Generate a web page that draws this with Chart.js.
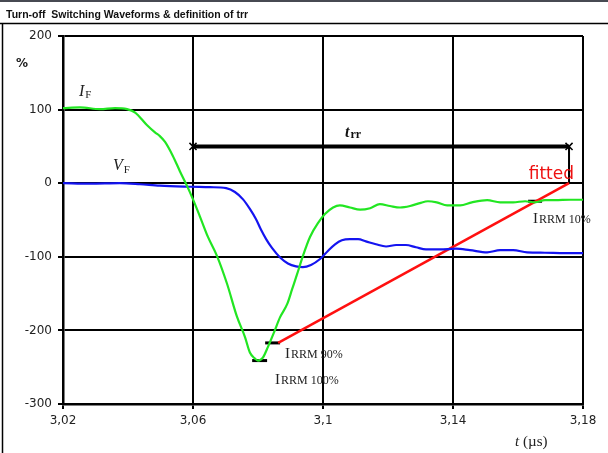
<!DOCTYPE html>
<html>
<head>
<meta charset="utf-8">
<script src="https://cdn.jsdelivr.net/npm/chart.js@4.4.1/dist/chart.umd.min.js"></script>
<style>
  html, body { margin: 0; padding: 0; background: #fff; }
  canvas { display: block; }
</style>
</head>
<body>
<canvas id="myChart" width="608" height="453"></canvas>
<script>
// tick values / labels
const xTicks = [3.02, 3.06, 3.10, 3.14, 3.18];
const xTickLabels = ['3,02', '3,06', '3,1', '3,14', '3,18'];
const yTicks = [-300, -200, -100, 0, 100, 200];

// I_F (green)
const timeIF = [3.020, 3.0252, 3.0314, 3.036, 3.0397, 3.0422, 3.0458, 3.0483, 3.0498, 3.0514, 3.0538, 3.056,
  3.0582, 3.06, 3.0622, 3.0646, 3.0674, 3.0705, 3.0735, 3.076, 3.0775, 3.079, 3.080, 3.0815, 3.0831,
  3.0849, 3.0868, 3.089, 3.0905, 3.092, 3.0938, 3.096, 3.0985, 3.1006, 3.1031, 3.1052, 3.1083, 3.1114,
  3.1145, 3.1175, 3.1206, 3.1237, 3.1268, 3.1298, 3.1323, 3.135, 3.1382, 3.1422, 3.1458, 3.1505, 3.1545,
  3.1585, 3.1622, 3.1652, 3.1683, 3.1714, 3.176, 3.180];
const valueIF = [102, 103, 100.6, 102, 100.6, 96, 79, 69, 64, 56, 37, 16,
  -4, -22, -46, -73, -99, -137, -181, -209, -230, -238, -241, -237, -222,
  -203, -182, -164, -144, -124, -99, -73, -54, -42, -33, -30, -33, -36,
  -34, -28.5, -31, -33, -31, -27, -24.5, -26, -30, -30, -26, -23, -26,
  -26, -24.5, -26, -23, -23, -22.5, -22.5];

// V_F (blue)
const timeVF = [3.020, 3.0283, 3.0375, 3.0437, 3.0498, 3.0591, 3.0652, 3.0702, 3.0729, 3.0754, 3.0775,
  3.0794, 3.0809, 3.0825, 3.0843, 3.0868, 3.0892, 3.0917, 3.0938, 3.0963, 3.0991, 3.1015, 3.1037,
  3.1058, 3.1083, 3.1108, 3.1132, 3.1163, 3.1194, 3.1225, 3.1255, 3.1286, 3.1317, 3.136, 3.1409,
  3.1452, 3.1505, 3.1545, 3.1585, 3.1628, 3.1683, 3.1745, 3.180];
const valueVF = [0, -0.7, 0, -1.4, -3.4, -4.8, -5.4, -6.8, -12, -22, -35,
  -49, -63, -76, -88, -101, -109, -113, -114, -111, -103, -92, -83,
  -77.5, -76, -76, -79, -83, -86, -84, -84, -87, -90, -90, -89,
  -91, -94, -91, -91, -94, -94.5, -95, -95];

// fitted line through I_RRM 90% and 10%
const fittedTime = [3.0862, 3.1757];
const fittedValue = [-217, 0];

// t_rr span
const trrTime = [3.06, 3.1757];
const trrValue = [50, 50];
const trrEndTime = [3.1757, 3.1757];
const trrEndValue = [50, 0];

// I_RRM markers
const irrm100Time = [3.0782, 3.0828];
const irrm100Value = [-241, -241];
const irrm90Time = [3.0822, 3.0868];
const irrm90Value = [-217, -217];
const irrm10Time = [3.1631, 3.1674];
const irrm10Value = [-24.5, -24.5];

function pts(xs, ys) {
  return xs.map((x, i) => ({ x: x, y: ys[i] }));
}

function line(xs, ys, color, width, extra) {
  return Object.assign({
    data: pts(xs, ys),
    showLine: true,
    borderColor: color,
    backgroundColor: color,
    borderWidth: width,
    pointRadius: 0,
    fill: false
  }, extra || {});
}

const ctx = document.getElementById('myChart');

// write main text with a subscript part
function subText(c, main, sub, x, y, mainFont, subFont, dy, color) {
  c.fillStyle = color || '#222';
  c.font = mainFont;
  c.fillText(main, x, y);
  const w = c.measureText(main).width;
  c.font = subFont;
  c.fillText(sub, x + w + 1, y + dy);
}

const decorations = {
  id: 'decorations',
  beforeDraw(chart) {
    const c = chart.ctx;
    c.save();
    c.fillStyle = '#fff';
    c.fillRect(0, 0, chart.width, chart.height);
    c.fillStyle = '#474a52';
    c.fillRect(0, 0, chart.width, 2);
    c.strokeStyle = '#000';
    c.lineWidth = 1.5;
    c.beginPath();
    c.moveTo(0, 23.5);
    c.lineTo(chart.width, 23.5);
    c.moveTo(2.5, 23.5);
    c.lineTo(2.5, chart.height);
    c.stroke();
    c.fillStyle = '#111';
    c.font = 'bold 10.5px "Liberation Sans"';
    c.textBaseline = 'alphabetic';
    c.fillText('Turn-off  Switching Waveforms & definition of trr', 6, 18);
    c.restore();
  },
  afterDatasetsDraw(chart) {
    const c = chart.ctx;
    const xs = chart.scales.x;
    c.save();
    c.textBaseline = 'alphabetic';
    const serif = '"Liberation Serif"';
    subText(c, 'I', 'F', 79, 96, 'italic 16px ' + serif, '11px ' + serif, 2);
    subText(c, 'V', 'F', 113, 170, 'italic 16px ' + serif, '11px ' + serif, 3);
    subText(c, 't', 'rr', 345, 137, 'bold italic 16px ' + serif, 'bold 12px ' + serif, 1, '#111');

    c.fillStyle = '#ee1111';
    c.font = '17px "DejaVu Sans"';
    c.textAlign = 'right';
    c.fillText('fitted', xs.getPixelForValue(3.1757) + 5, 179);
    c.textAlign = 'left';

    subText(c, 'I', 'RRM 90%', 285, 358, '15px ' + serif, '12px ' + serif, 0);
    subText(c, 'I', 'RRM 100%', 275, 384, '15px ' + serif, '12px ' + serif, 0);
    subText(c, 'I', 'RRM 10%', 533, 223, '15px ' + serif, '12px ' + serif, 0);

    c.fillStyle = '#222';
    c.font = 'bold 12px "DejaVu Sans"';
    c.fillText('%', 16, 67);

    c.font = 'italic 15px ' + serif;
    c.fillText('t', 515, 446);
    c.font = '15px ' + serif;
    c.fillText('(µs)', 523, 446);
    c.restore();
  }
};

new Chart(ctx, {
  type: 'scatter',
  data: {
    datasets: [
      line(timeIF, valueIF, '#22e622', 2.2, { cubicInterpolationMode: 'monotone' }),
      line(timeVF, valueVF, '#1414f0', 2.2, { cubicInterpolationMode: 'monotone' }),
      line(fittedTime, fittedValue, '#ff1010', 2.5),
      line(trrTime, trrValue, '#000', 4, { pointStyle: 'crossRot', pointRadius: 5, pointBorderWidth: 1.5 }),
      line(trrEndTime, trrEndValue, '#000', 2),
      line(irrm100Time, irrm100Value, '#000', 3),
      line(irrm90Time, irrm90Value, '#000', 3),
      line(irrm10Time, irrm10Value, '#000', 3)
    ]
  },
  options: {
    responsive: false,
    animation: false,
    devicePixelRatio: 1,
    layout: { padding: { left: 0, top: 36, right: 25, bottom: 0 } },
    plugins: {
      legend: { display: false },
      tooltip: { enabled: false }
    },
    scales: {
      x: {
        type: 'linear',
        min: 3.02,
        max: 3.18,
        afterBuildTicks(scale) {
          scale.ticks = xTicks.map(v => ({ value: v }));
        },
        afterFit(scale) { scale.height = 49; },
        ticks: {
          autoSkip: false,
          maxRotation: 0,
          padding: 5,
          color: '#222',
          font: { family: 'DejaVu Sans', size: 12 },
          callback: (v, i) => xTickLabels[i]
        },
        grid: { color: '#000', lineWidth: 2, tickLength: 5, drawTicks: true },
        border: { color: '#000', width: 2.5 }
      },
      y: {
        min: -300,
        max: 200,
        afterBuildTicks(scale) {
          scale.ticks = yTicks.map(v => ({ value: v }));
        },
        afterFit(scale) { scale.width = 63; },
        ticks: {
          padding: 6,
          color: '#222',
          font: { family: 'DejaVu Sans', size: 12 },
          callback: v => String(v)
        },
        grid: { color: '#000', lineWidth: 2, tickLength: 5, drawTicks: true },
        border: { color: '#000', width: 2.5 }
      }
    }
  },
  plugins: [decorations]
});
</script>
</body>
</html>
